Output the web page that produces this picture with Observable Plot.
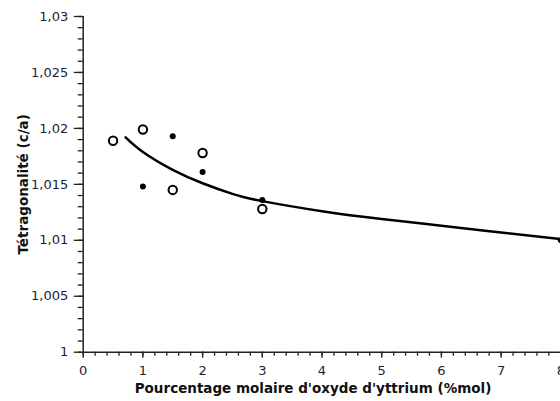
<!DOCTYPE html>
<html>
<head>
<meta charset="utf-8">
<script src="https://cdn.jsdelivr.net/npm/d3@7"></script>
<script src="https://cdn.jsdelivr.net/npm/@observablehq/plot@0.6"></script>
<style>
  html, body { margin: 0; padding: 0; background: #fff; overflow: hidden; }
  #chart { width: 560px; height: 401px; overflow: hidden; }
  #chart svg { max-width: none !important; width: 575px !important; height: 401px !important; }
</style>
</head>
<body>
<div id="chart"></div>
<script>
// Open circles
const openX = [0.5, 1, 1.5, 2, 3];
const openY = [1.0189, 1.0199, 1.0145, 1.0178, 1.0128];
// Filled dots
const filledX = [1, 1.5, 2, 3, 8];
const filledY = [1.0148, 1.0193, 1.0161, 1.0136, 1.0100];
// Fitted curve
const curveX = [0.71, 1, 1.5, 2, 2.5, 3, 4, 5, 6, 7, 8];
const curveY = [1.0192, 1.0179, 1.0163, 1.0151, 1.01415, 1.0135, 1.0126, 1.0119, 1.0113, 1.0107, 1.0101];
// Ticks
const xTicks = [0, 1, 2, 3, 4, 5, 6, 7, 8];
const yTicks = [1, 1.005, 1.01, 1.015, 1.02, 1.025, 1.03];
const xTitle = "Pourcentage molaire d'oxyde d'yttrium (%mol)";
const yTitle = "Tétragonalité (c/a)";

const openPts = openX.map((x, i) => ({x, y: openY[i]}));
const filledPts = filledX.map((x, i) => ({x, y: filledY[i]}));
const curvePts = curveX.map((x, i) => ({x, y: curveY[i]}));
const xMinor = d3.range(0, 8.0001, 0.2).map(v => +v.toFixed(1));
const yMinor = d3.range(1, 1.03001, 0.001).map(v => +v.toFixed(3));
const fmtY = d => String(+d.toFixed(3)).replace(".", ",");

const tickColor = "#1c1c3a";
const chart = Plot.plot({
  width: 575,
  height: 401,
  marginLeft: 82.7,
  marginRight: 14.7,
  marginTop: 16,
  marginBottom: 49.3,
  style: {fontFamily: "'DejaVu Sans', Verdana, sans-serif", background: "#fff", overflow: "visible"},
  x: {domain: [0, 8]},
  y: {domain: [1, 1.03]},
  marks: [
    Plot.axisX({ticks: xMinor, tickSize: 4, text: null, stroke: "#222", strokeWidth: 1.3, label: null}),
    Plot.axisX({ticks: xTicks, tickSize: 6, tickPadding: 8, stroke: "#222", strokeWidth: 1.3,
      fill: tickColor, fontSize: 13, label: null}),
    Plot.axisY({ticks: yMinor, tickSize: 5, text: null, stroke: "#222", strokeWidth: 1.3, label: null}),
    Plot.axisY({ticks: yTicks, tickSize: 9, tickPadding: 6, tickFormat: fmtY, stroke: "#222", strokeWidth: 1.3,
      fill: tickColor, fontSize: 13, label: null}),
    Plot.ruleY([1], {stroke: "#222", strokeWidth: 1.5}),
    Plot.ruleX([0], {y1: 1, y2: 1.03, stroke: "#222", strokeWidth: 1.5}),
    Plot.line(curvePts, {x: "x", y: "y", curve: "natural", stroke: "#000", strokeWidth: 2.5}),
    Plot.dot(openPts, {x: "x", y: "y", r: 4.2, stroke: "#000", strokeWidth: 2, fill: "#fff"}),
    Plot.dot(filledPts, {x: "x", y: "y", r: 3, fill: "#000", stroke: "none"}),
    Plot.text([xTitle], {frameAnchor: "bottom", dy: 41, dx: -9, fontSize: 13.5, fontWeight: "bold", fill: "#111"}),
    Plot.text([yTitle], {frameAnchor: "left", dx: -60, rotate: -90, textAnchor: "middle", fontSize: 13.5, fontWeight: "bold", fill: "#111"})
  ]
});
document.getElementById("chart").appendChild(chart);
</script>
</body>
</html>
